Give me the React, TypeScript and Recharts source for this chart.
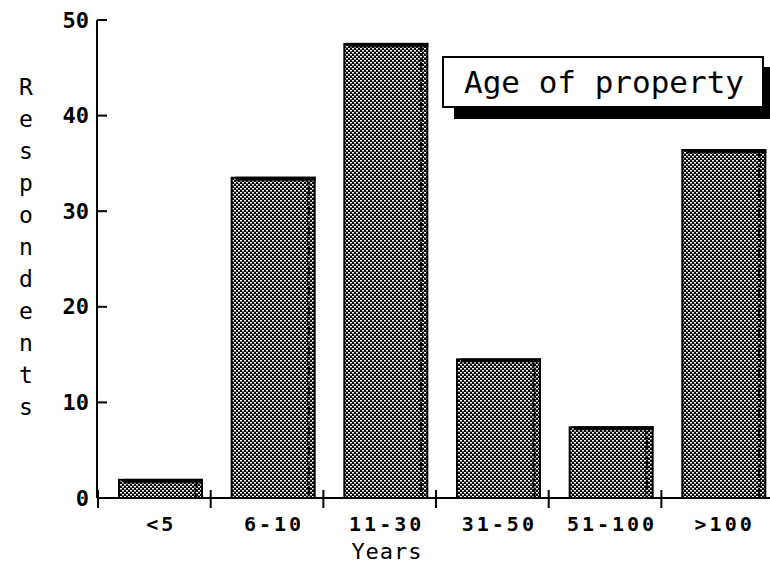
import React from 'react';
import { BarChart, Bar, XAxis, YAxis } from 'recharts';

const ageBands = ['<5', '6-10', '11-30', '31-50', '51-100', '>100'];
const respondents = [1.9, 33.5, 47.5, 14.5, 7.4, 36.4];
const yTicks = [0, 10, 20, 30, 40, 50];

const chartData = ageBands.map((band, i) => ({ band, respondents: respondents[i] }));

const HALF_BAND = 56.3;
const mono = '"DejaVu Sans Mono", monospace';

const YTick = (props: any) => {
  const { x, y, payload } = props;
  return (
    <g>
      <line x1={x} x2={x + 10} y1={y} y2={y} stroke="#000" strokeWidth={2} />
      <text x={x - 8} y={y} textAnchor="end" dominantBaseline="central" fontFamily={mono}
        fontWeight="bold" fontSize={22} letterSpacing={0} fill="#000">
        {payload.value}
      </text>
    </g>
  );
};

const XTick = (props: any) => {
  const { x, y, payload } = props;
  const tx = x - HALF_BAND - 6;
  return (
    <g>
      <line x1={tx} x2={tx} y1={y - 8} y2={y + 10} stroke="#000" strokeWidth={2} />
      <text x={x + 1} y={y + 33} textAnchor="middle" fontFamily={mono} fontWeight="bold"
        fontSize={20} letterSpacing={3} fill="#000">
        {payload.value}
      </text>
    </g>
  );
};

const DitherBar = (props: any) => {
  const { x, y, width, height } = props;
  if (!height) return null;
  return (
    <g>
      <rect x={x} y={y} width={width} height={height} fill="url(#dither)" stroke="#000" strokeWidth={2} />
      <rect x={x + 4} y={y - 1} width={width - 3} height={4} fill="#000" />
      <line x1={x + width - 6} x2={x + width - 6} y1={y + 4} y2={y + height} stroke="#000"
        strokeWidth={3} strokeDasharray="3 2" />
    </g>
  );
};

const StackedLabel = () => {
  const letters = 'Respondents'.split('');
  return (
    <text fontFamily={mono} fontSize={23} fill="#000" textAnchor="middle">
      {letters.map((ch, i) => (
        <tspan key={i} x={26} y={95 + i * 32}>{ch}</tspan>
      ))}
    </text>
  );
};

const YearsLabel = (props: any) => {
  const { viewBox } = props;
  return (
    <text x={viewBox.x + 290} y={559} textAnchor="middle" fontFamily={mono} fontSize={22}
      letterSpacing={1} fill="#000">
      Years
    </text>
  );
};

export default function App() {
  return (
    <div style={{ position: 'fixed', left: 0, top: 0, width: 770, height: 564, overflow: 'hidden', background: '#fff' }}>
      <BarChart width={800} height={564} data={chartData}
        margin={{ top: 20, right: 20, left: 0, bottom: 0 }}>
        <defs>
          <pattern id="dither" width="4" height="4" patternUnits="userSpaceOnUse">
            <rect width="4" height="4" fill="#000" />
            <rect x="0" y="0" width="2" height="1.5" fill="#fff" />
            <rect x="2" y="2" width="2" height="1.5" fill="#fff" />
          </pattern>
        </defs>
        <XAxis dataKey="band" height={66} padding={{ left: 7, right: 0 }} tickSize={0} tickMargin={0}
          axisLine={{ stroke: '#000', strokeWidth: 2 }} tickLine={false} tick={<XTick />} interval={0}
          label={<YearsLabel />} />
        <YAxis width={97} domain={[0, 50]} ticks={yTicks} tickSize={0} tickMargin={0}
          axisLine={{ stroke: '#000', strokeWidth: 2 }} tickLine={false} tick={<YTick />}
          label={<StackedLabel />} />
        <Bar dataKey="respondents" barSize={83} shape={<DitherBar />} isAnimationActive={false} />
      </BarChart>
      <div style={{
        position: 'absolute', left: 442, top: 56, width: 322, height: 52, boxSizing: 'border-box',
        border: '2px solid #000', background: '#fff', boxShadow: '12px 11px 0 #000',
        fontFamily: mono, fontSize: 31, lineHeight: '48px', paddingLeft: 20, color: '#000',
        whiteSpace: 'nowrap'
      }}>
        Age of property
      </div>
    </div>
  );
}
